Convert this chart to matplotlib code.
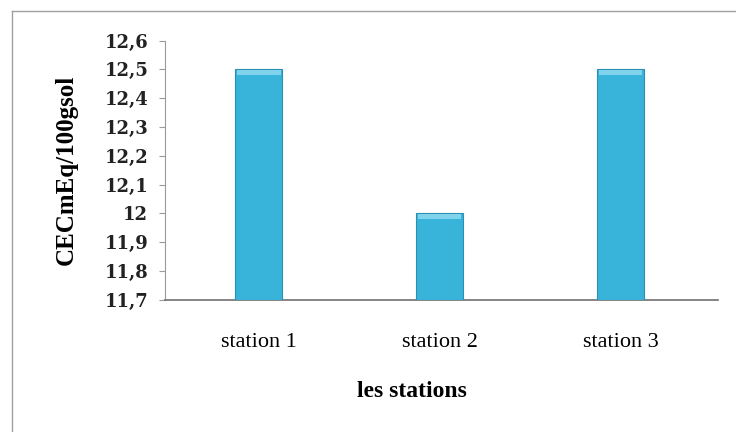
import matplotlib
matplotlib.use("Agg")
import matplotlib.pyplot as plt
from matplotlib.patches import Rectangle
from matplotlib.lines import Line2D
from matplotlib.ticker import FuncFormatter

stations = ["station 1", "station 2", "station 3"]
cec = [12.5, 12.0, 12.5]
yticks = [11.7, 11.8, 11.9, 12.0, 12.1, 12.2, 12.3, 12.4, 12.5, 12.6]

plt.rcParams["font.family"] = ["Liberation Serif", "DejaVu Serif"]

fig = plt.figure(figsize=(7.36, 4.32), dpi=100)
fig.patch.set_facecolor("white")
ax = fig.add_axes([0.224, 0.306, 0.752, 0.600])

x = range(len(stations))
bars = ax.bar(x, [v - 11.7 for v in cec], bottom=11.7, width=0.26,
              color="#38b4da", edgecolor="#2b8fb3", linewidth=0.8, zorder=3)
# lighter band along the top of each bar
for b, v in zip(bars, cec):
    ax.add_patch(Rectangle((b.get_x() + 0.01, v - 0.018), b.get_width() - 0.02, 0.016,
                           color="#7fd3ea", lw=0, zorder=4))

ax.set_xlim(-0.52, 2.54)
ax.set_ylim(11.7, 12.6)
ax.set_yticks(yticks)
ax.yaxis.set_major_formatter(FuncFormatter(lambda v, p: f"{v:g}".replace(".", ",")))
ax.set_xticks(list(x))
ax.set_xticklabels(stations, fontsize=16)
for t in ax.get_yticklabels():
    t.set_fontsize(13)
    t.set_fontweight("bold")
    t.set_family("DejaVu Serif")
    t.set_color("#222222")

for s in ["top", "right"]:
    ax.spines[s].set_visible(False)
ax.spines["left"].set_color("#9a9a9a")
ax.spines["bottom"].set_color("#707070")
ax.spines["bottom"].set_linewidth(1.2)
ax.tick_params(axis="y", length=4, color="#9a9a9a", pad=8)
ax.tick_params(axis="x", length=0, pad=24)

ax.set_ylabel("CECmEq/100gsol", fontsize=18, fontweight="bold")
ax.yaxis.set_label_coords(-0.157, 0.5)
ax.set_xlabel("les stations", fontsize=17, fontweight="bold")
ax.xaxis.set_label_coords(0.447, -0.315)

# thin grey frame lines (top and left) around the chart area
fig.add_artist(Line2D([0.016, 1.0], [0.975, 0.975], transform=fig.transFigure,
                      color="#a0a0a0", lw=1.0))
fig.add_artist(Line2D([0.016, 0.016], [0.0, 0.975], transform=fig.transFigure,
                      color="#a0a0a0", lw=1.0))

fig.savefig("out.png", dpi=100)
